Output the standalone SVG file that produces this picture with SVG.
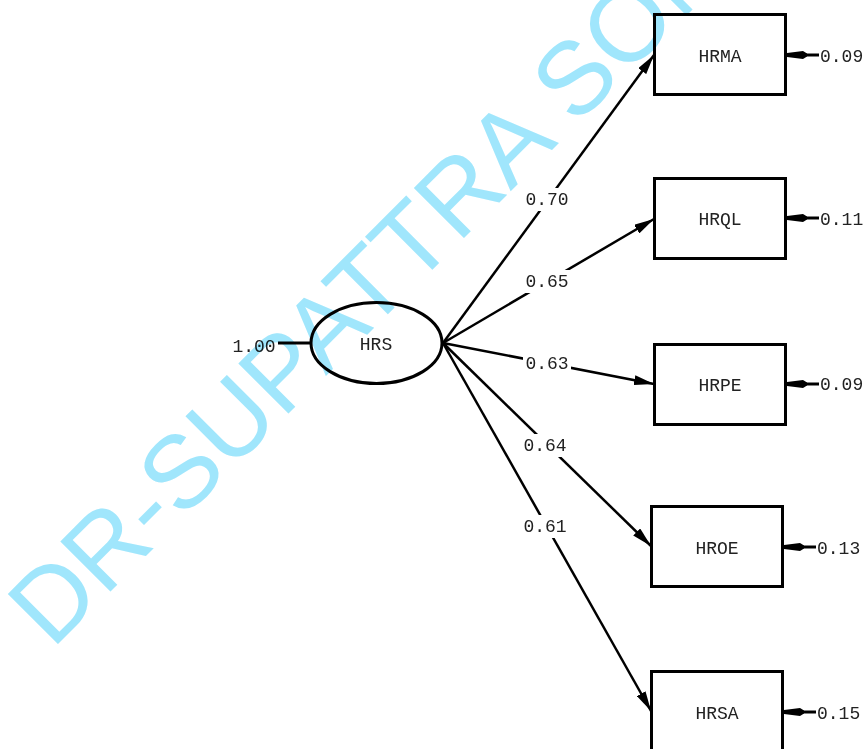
<svg xmlns="http://www.w3.org/2000/svg" width="864" height="749" viewBox="0 0 864 749">
  <defs>
    <style>
      .box { fill: none; stroke: #000; stroke-width: 3; }
      .lat { fill: none; stroke: #000; stroke-width: 3; }
      .lbl { font-family: "Liberation Mono", "Courier New", monospace; font-size: 18px; fill: #222; text-anchor: middle; }
      .num { font-family: "Liberation Mono", "Courier New", monospace; font-size: 18px; fill: #222; }
      .path { fill: none; stroke: #000; stroke-width: 2.5; marker-end: url(#head); }
      .err { fill: none; stroke: #000; stroke-width: 3; marker-end: url(#ehead); }
      .pad { fill: #fff; }
      .mark { font-family: "Liberation Sans", Arial, sans-serif; font-size: 103px; fill: #a0e6fc; mix-blend-mode: multiply; }
    </style>
    <marker id="head" markerUnits="userSpaceOnUse" viewBox="0 0 20 10" refX="20" refY="5" markerWidth="20" markerHeight="10" orient="auto">
      <path d="M0,0 L20,5 L0,10 z" fill="#000"/>
    </marker>
    <!-- short blunt head for the error-variance arrows -->
    <marker id="ehead" markerUnits="userSpaceOnUse" viewBox="0 0 20 10" refX="20" refY="5" markerWidth="20" markerHeight="10" orient="auto">
      <path d="M0,3.5 L4,1 L20,3 L20,7 L4,9 L0,6.5 z" fill="#000"/>
    </marker>
  </defs>

  <rect width="864" height="749" fill="#fff"/>

  <!-- loadings from the latent factor to each indicator -->
  <g id="connectors">
    <line x1="278" y1="343" x2="311" y2="343" stroke="#000" stroke-width="3"/>
    <line class="path" x1="443" y1="343" x2="654" y2="55"/>
    <line class="path" x1="443" y1="343" x2="654" y2="219"/>
    <line class="path" x1="443" y1="343" x2="654" y2="384"/>
    <line class="path" x1="443" y1="343" x2="651" y2="546"/>
    <line class="path" x1="443" y1="343" x2="651" y2="711"/>

    <line class="err" x1="819" y1="55" x2="787" y2="55"/>
    <line class="err" x1="819" y1="218" x2="787" y2="218"/>
    <line class="err" x1="819" y1="384" x2="787" y2="384"/>
    <line class="err" x1="816" y1="547" x2="784" y2="547"/>
    <line class="err" x1="816" y1="712" x2="784" y2="712"/>

    <!-- loading labels sit on white pads that break the lines -->
    <rect class="pad" x="523" y="188" width="48" height="23"/>
    <text class="lbl" x="547" y="205">0.70</text>
    <rect class="pad" x="523" y="270" width="48" height="23"/>
    <text class="lbl" x="547" y="287">0.65</text>
    <rect class="pad" x="523" y="352" width="48" height="23"/>
    <text class="lbl" x="547" y="369">0.63</text>
    <rect class="pad" x="521" y="434" width="48" height="23"/>
    <text class="lbl" x="545" y="451">0.64</text>
    <rect class="pad" x="521" y="515" width="48" height="23"/>
    <text class="lbl" x="545" y="532">0.61</text>

    <text class="lbl" x="254" y="352">1.00</text>
    <text class="num" x="820" y="62">0.09</text>
    <text class="num" x="820" y="225">0.11</text>
    <text class="num" x="820" y="390">0.09</text>
    <text class="num" x="817" y="554">0.13</text>
    <text class="num" x="817" y="719">0.15</text>
  </g>

  <g id="HRS">
    <ellipse class="lat" cx="376.5" cy="343" rx="65.5" ry="40.5"/>
    <text class="lbl" x="376" y="350">HRS</text>
  </g>
  <g id="HRMA">
    <rect class="box" x="654.5" y="14.5" width="131" height="80"/>
    <text class="lbl" x="720" y="62">HRMA</text>
  </g>
  <g id="HRQL">
    <rect class="box" x="654.5" y="178.5" width="131" height="80"/>
    <text class="lbl" x="720" y="225">HRQL</text>
  </g>
  <g id="HRPE">
    <rect class="box" x="654.5" y="344.5" width="131" height="80"/>
    <text class="lbl" x="720" y="391">HRPE</text>
  </g>
  <g id="HROE">
    <rect class="box" x="651.5" y="506.5" width="131" height="80"/>
    <text class="lbl" x="717" y="554">HROE</text>
  </g>
  <g id="HRSA">
    <rect class="box" x="651.5" y="671.5" width="131" height="80"/>
    <text class="lbl" x="717" y="719">HRSA</text>
  </g>

  <!-- diagonal watermark -->
  <text class="mark" transform="translate(52,650) rotate(-45)">DR-SUPATTRA SON</text>
</svg>
